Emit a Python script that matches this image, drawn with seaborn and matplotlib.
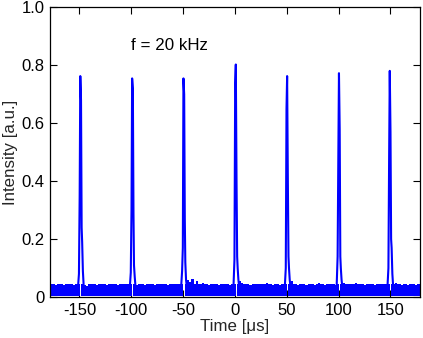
import numpy as np
import matplotlib
matplotlib.use("Agg")
import matplotlib.pyplot as plt
import seaborn as sns

# pulse train, f = 20 kHz
pulse_times = [-149.0, -99.0, -49.5, 1.0, 50.5, 100.5, 149.5]
pulse_offsets = [-2.5, -1.5, -0.8, -0.2, 0.5, 1.1, 1.6, 2.3, 3.2]
pulse_shapes = [
    [0.03, 0.08, 0.35, 0.763, 0.68, 0.24, 0.19, 0.09, 0.03],
    [0.03, 0.085, 0.30, 0.755, 0.72, 0.29, 0.11, 0.07, 0.03],
    [0.03, 0.09, 0.17, 0.755, 0.70, 0.27, 0.12, 0.06, 0.03],
    [0.03, 0.13, 0.74, 0.803, 0.40, 0.14, 0.10, 0.06, 0.03],
    [0.03, 0.10, 0.65, 0.763, 0.40, 0.14, 0.10, 0.06, 0.03],
    [0.03, 0.14, 0.49, 0.773, 0.58, 0.14, 0.10, 0.06, 0.03],
    [0.03, 0.10, 0.49, 0.781, 0.57, 0.20, 0.17, 0.08, 0.03],
]

# upper edge of the noise floor, sampled every 2 us from -178 to 178
band_t = np.arange(-178, 179, 2)
band_top = [
    .046, .046, .041, .046, .046, .046, .041, .046, .046, .046,
    .046, .041, .046, .046, .046, .046, .043, .040, .044, .046,
    .046, .046, .041, .046, .046, .046, .046, .041, .046, .046,
    .046, .046, .041, .046, .046, .046, .046, .046, .046, .046,
    .046, .042, .046, .046, .046, .041, .046, .046, .046, .046,
    .041, .046, .046, .046, .046, .046, .041, .046, .046, .046,
    .046, .046, .046, .046, .046, .046, .060, .052, .062, .046,
    .055, .046, .046, .050, .046, .046, .041, .046, .046, .046,
    .046, .041, .046, .046, .046, .046, .041, .046, .046, .046,
    .046, .055, .050, .046, .046, .046, .041, .046, .046, .046,
    .046, .046, .046, .046, .050, .046, .046, .041, .046, .046,
    .041, .046, .046, .046, .046, .046, .055, .046, .046, .041,
    .046, .046, .046, .041, .046, .046, .046, .041, .046, .048,
    .046, .046, .041, .046, .046, .046, .046, .041, .046, .046,
    .046, .050, .046, .046, .046, .046, .046, .050, .046, .046,
    .046, .041, .046, .046, .046, .046, .041, .046, .046, .046,
    .046, .046, .046, .046, .046, .046, .050, .046, .046, .041,
    .046, .046, .041, .046, .046, .046, .041, .046, .046,
]
band_bottom = 0.004

x_ticks = [-150, -100, -50, 0, 50, 100, 150]
y_ticks = [0, 0.2, 0.4, 0.6, 0.8, 1.0]
y_tick_labels = ["0", "0.2", "0.4", "0.6", "0.8", "1.0"]

sns.set_style("ticks")
plt.rcParams["font.family"] = ["Liberation Sans", "DejaVu Sans"]
plt.rcParams["axes.unicode_minus"] = False

fig = plt.figure(figsize=(4.23, 3.38), dpi=100)
ax = fig.add_axes([0.118, 0.121, 0.875, 0.857])

env = np.array(band_top)
starts = [-180.0] + [p + 0.9 for p in pulse_times]
ends = [p - 0.3 for p in pulse_times] + [180.0]
for a, b in zip(starts, ends):
    inside = (band_t > a) & (band_t < b)
    i0 = int(np.argmin(np.abs(band_t - a)))
    xs = np.concatenate([[a], band_t[inside], [b]])
    ys = np.concatenate([[env[i0]], env[inside], [env[inside][-1] if inside.any() else env[i0]]])
    ax.fill_between(xs, band_bottom, ys, step="post", color="#0000ff", lw=0)

for t0, shape in zip(pulse_times, pulse_shapes):
    sns.lineplot(x=[t0 + o for o in pulse_offsets], y=shape, ax=ax,
                 color="#0000ff", lw=1.5, sort=False, estimator=None)

ax.text(-100.5, 0.853, "f = 20 kHz", fontsize=12.2, color="black")

ax.set_xlim(-178.5, 178.5)
ax.set_ylim(0, 1.0)
ax.set_xticks(x_ticks)
ax.set_yticks(y_ticks)
ax.set_yticklabels(y_tick_labels)
ax.tick_params(direction="in", top=True, right=True, length=5, width=0.8,
               labelsize=12, colors="black", pad=4)
for s in ax.spines.values():
    s.set_visible(True)
    s.set_linewidth(0.9)
    s.set_color("black")
ax.set_xlabel("Time [\u03bcs]", fontsize=12.2, labelpad=1)
ax.set_ylabel("Intensity [a.u.]", fontsize=12.2, labelpad=2)

fig.savefig("out.png", dpi=100)
plt.close(fig)
